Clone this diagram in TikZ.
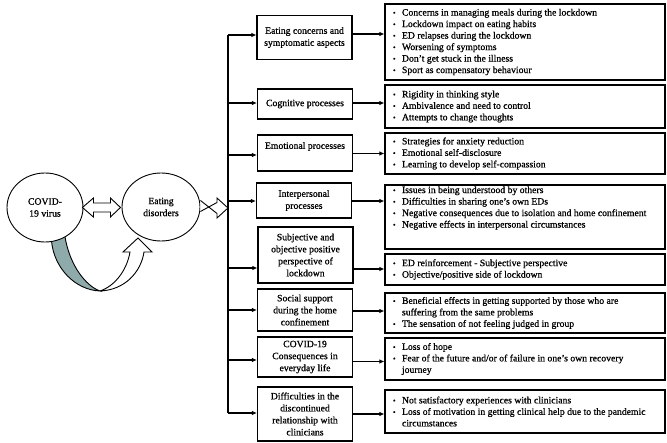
\documentclass[tikz,border=0pt]{standalone}
\usepackage{fontspec}
\setmainfont{Liberation Serif}[FakeBold=0.8]
\usetikzlibrary{arrows.meta,shapes.geometric}
\definecolor{bandgrey}{RGB}{143,170,170}
\newcommand\bitem[1]{\par\noindent\hangindent=9pt\hangafter=1\makebox[9pt][l]{\raisebox{0.3pt}{\fontsize{7.5}{7.5}\selectfont\textbullet}}#1}
\newcommand\rtext[2][0pt]{\parbox{264pt}{\fontsize{9.7}{11.5}\selectfont #2\par\vspace{#1}}}
\begin{document}
\begin{tikzpicture}[x=1pt,y=-1pt,
  mbox/.style={draw, line width=1.1pt, minimum width=95pt, inner sep=1pt, align=center, font=\fontsize{9.7}{12}\selectfont},
  rbox/.style={draw, line width=1.1pt, minimum width=280pt, inner xsep=8pt, inner ysep=0pt},
  oval/.style={draw, ellipse, line width=0.9pt, fill=white, inner sep=0pt, align=center, font=\fontsize{9.7}{12}\selectfont},
  arr/.style={line width=1.1pt, -{Latex[length=5pt,width=4.5pt]}},
  blk/.style={draw, line width=0.9pt, fill=white, line join=miter}]
\useasboundingbox (0,0) rectangle (667,443);

% curved 3D arrow
\fill[bandgrey] (51,232) -- (51.5,241) .. controls (54,268) and (75,290) .. (100,291) .. controls (86,286) and (70,266) .. (65,237) -- (66,230) -- cycle;
\draw[line width=0.9pt] (51.5,241) .. controls (54,268) and (75,290) .. (100,291) .. controls (86,286) and (70,266) .. (65,237);
\draw[blk] (100,291) .. controls (125,290) and (141,272) .. (144,252) -- (152,252) -- (138,238) -- (123,252) -- (130,252) .. controls (127,270) and (115,286) .. (100,291);

\node[oval, minimum width=76pt, minimum height=69pt] (covid) at (45,207.5) {COVID-\\19 virus};
\node[oval, minimum width=78pt, minimum height=68pt] (ed) at (161,207) {Eating\\disorders};

% double hollow arrow
\draw[blk] ([xshift=-1pt]covid.east) -- ++(11,-9.5) -- ++(0,5) -- ++(17,0) -- ++(0,-5) -- ++(10,9.5) -- ++(-10,9.5) -- ++(0,-5) -- ++(-17,0) -- ++(0,5) -- cycle;
% right hollow arrow
\coordinate (ttop) at (228,35);
\coordinate (tbot) at (228,413);
\draw[blk] ([yshift=-4.5pt]ed.east) -- (217,202.5) -- (217,198) -- (228,208) -- (217,218) -- (217,213.5) -- ([yshift=6.5pt]ed.east);

% trunk
\draw[line width=1.2pt] (ttop) -- (tbot);

% middle boxes
\node[mbox, minimum height=43.6pt] (m1) at (304.5,37.5) {Eating concerns and\\symptomatic aspects};
\node[mbox, minimum height=30pt] (m2) at (305,104) {Cognitive processes};
\node[mbox, minimum height=36pt] (m3) at (305,153) {Emotional processes\\[3pt]};
\node[mbox, minimum height=35pt] (m4) at (304,200.5) {Interpersonal\\processes};
\node[mbox, minimum height=56pt] (m5) at (305.5,255) {Subjective and\\objective positive\\perspective of\\lockdown};
\node[mbox, minimum height=42pt] (m6) at (305,310) {Social support\\during the home\\confinement};
\node[mbox, minimum height=40pt] (m7) at (305,357) {COVID-19\\Consequences in\\everyday life};
\node[mbox, minimum height=54pt] (m8) at (305,414) {Difficulties in the\\discontinued\\relationship with\\clinicians};

% right boxes
\node[rbox, minimum height=76pt] (r1) at (525,42) {\rtext{\bitem{Concerns in managing meals during the lockdown}\bitem{Lockdown impact on eating habits}\bitem{ED relapses during the lockdown}\bitem{Worsening of symptoms}\bitem{Don’t get stuck in the illness}\bitem{Sport as compensatory behaviour}}};
\node[rbox, minimum height=43pt] (r2) at (525,106.5) {\rtext{\bitem{Rigidity in thinking style}\bitem{Ambivalence and need to control}\bitem{Attempts to change thoughts}}};
\node[rbox, minimum height=41pt] (r3) at (525,153.5) {\rtext{\bitem{Strategies for anxiety reduction}\bitem{Emotional self-disclosure}\bitem{Learning to develop self-compassion}}};
\node[rbox, minimum height=64pt] (r4) at (525,217) {\rtext[18pt]{\bitem{Issues in being understood by others}\bitem{Difficulties in sharing one’s own EDs}\bitem{Negative consequences due to isolation and home confinement}\bitem{Negative effects in interpersonal circumstances}}};
\node[rbox, minimum height=31pt] (r5) at (525,269.5) {\rtext{\bitem{ED reinforcement - Subjective perspective}\bitem{Objective/positive side of lockdown}}};
\node[rbox, minimum height=40pt] (r6) at (525,313) {\rtext{\bitem{Beneficial effects in getting supported by those who are\\suffering from the same problems}\bitem{The sensation of not feeling judged in group}}};
\node[rbox, minimum height=42pt] (r7) at (525,359) {\rtext{\bitem{Loss of hope}\bitem{Fear of the future and/or of failure in one’s own recovery\\journey}}};
\node[rbox, minimum height=43pt] (r8) at (525,411.5) {\rtext{\bitem{Not satisfactory experiences with clinicians}\bitem{Loss of motivation in getting clinical help due to the pandemic\\circumstances}}};

% trunk arrows
\coordinate (t2) at (228,103);
\coordinate (t3) at (228,155);
\coordinate (t4) at (228,201);
\coordinate (t5) at (228,268);
\coordinate (t6) at (228,310);
\coordinate (t7) at (228,360);
\draw[arr] (ttop) -- (m1.west |- ttop);
\draw[arr] (t2) -- (m2.west |- t2);
\draw[arr] (t3) -- (m3.west |- t3);
\draw[arr] (t4) -- (m4.west |- t4);
\draw[arr] (t5) -- (m5.west |- t5);
\draw[arr] (t6) -- (m6.west |- t6);
\draw[arr] (t7) -- (m7.west |- t7);
\draw[arr] (tbot) -- (m8.west |- tbot);

% middle to right arrows
\draw[arr] (m1.east |- 0,34) -- (r1.west |- 0,34);
\draw[arr] (m2.east |- 0,103) -- (r2.west |- 0,103);
\draw[arr] (m3.east |- 0,153.5) -- (r3.west |- 0,153.5);
\draw[arr] (m4.east |- 0,201) -- (r4.west |- 0,201);
\draw[arr] (m5.east |- 0,269) -- (r5.west |- 0,269);
\draw[arr] (m6.east |- 0,311) -- (r6.west |- 0,311);
\draw[arr] (m7.east |- 0,361.5) -- (r7.west |- 0,361.5);
\draw[arr] (m8.east |- 0,414) -- (r8.west |- 0,414);
\end{tikzpicture}
\end{document}
